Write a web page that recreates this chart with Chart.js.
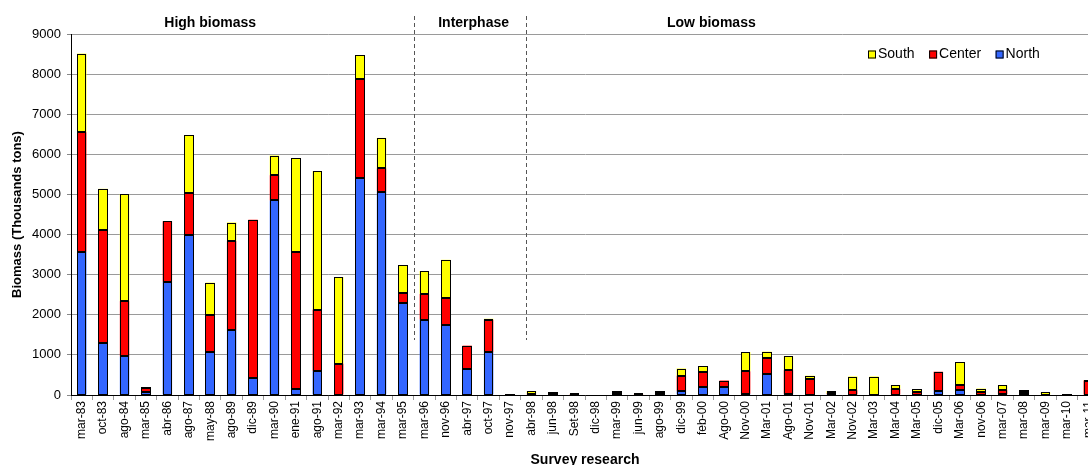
<!DOCTYPE html>
<html><head><meta charset="utf-8">
<script src="https://cdn.jsdelivr.net/npm/chart.js"></script>
<style>
html,body{margin:0;padding:0;overflow:hidden;background:#fff;width:1088px;height:465px}
canvas{display:block}
</style></head>
<body>
<canvas id="c" width="1110" height="470" style="width:1110px;height:470px"></canvas>
<script>
const categories = ['mar-83','oct-83','ago-84','mar-85','abr-86','ago-87','may-88','ago-89','dic-89','mar-90','ene-91','ago-91','mar-92','mar-93','mar-94','mar-95','mar-96','nov-96','abr-97','oct-97','nov-97','abr-98','jun-98','Set-98','dic-98','mar-99','jun-99','ago-99','dic-99','feb-00','Ago-00','Nov-00','Mar-01','Ago-01','Nov-01','Mar-02','Nov-02','Mar-03','Mar-04','Mar-05','dic-05','Mar-06','nov-06','mar-07','mar-08','mar-09','mar-10','mar-11'];
const north  = [3570,1290,960,75,2820,4000,1070,1620,420,4850,140,600,0,5420,5070,2290,1880,1750,650,1070,10,10,40,10,0,30,10,20,100,200,200,30,530,30,10,20,10,0,10,10,110,120,10,20,50,0,0,10];
const center = [2980,2830,1380,90,1510,1030,930,2220,3950,630,3420,1530,780,2450,580,260,640,680,580,800,10,20,10,10,0,40,10,50,380,370,160,560,380,590,380,20,110,10,140,70,470,140,60,100,30,10,10,350];
const south  = [1960,1020,2670,15,0,1440,800,460,0,490,2340,3450,2160,600,760,690,570,940,0,30,0,70,10,5,0,20,5,20,180,150,0,480,170,340,90,60,340,450,100,70,0,560,90,120,40,60,0,10];
const yTicks = [0,1000,2000,3000,4000,5000,6000,7000,8000,9000];
const phaseLabels = ['High biomass','Interphase','Low biomass'];
const phaseLabelAt = [6, 18.3, 29.4];
const phaseBreaks = [15.5, 20.75];

const FAM = '"Liberation Sans", Arial, Helvetica, sans-serif';

const outline = {
  id: 'outline',
  afterDatasetsDraw(chart) {
    const ctx = chart.ctx;
    ctx.save();
    ctx.strokeStyle = '#000'; ctx.lineWidth = 1;
    chart.data.datasets.forEach((ds, i) => {
      chart.getDatasetMeta(i).data.forEach((el, j) => {
        if (!ds.data[j]) return;
        const p = el.getProps(['x', 'y', 'base', 'width'], true);
        const l = Math.round(p.x - p.width / 2) + 0.5;
        const r = Math.round(p.x + p.width / 2) - 0.5;
        const t = Math.round(Math.min(p.y, p.base)) + 0.5;
        const b = Math.round(Math.max(p.y, p.base)) - 0.5;
        ctx.strokeRect(l, Math.min(t, b), r - l, Math.max(b - t, 1));
      });
    });
    ctx.restore();
  }
};

const decor = {
  id: 'decor',
  afterDraw(chart) {
    const ctx = chart.ctx, x = chart.scales.x;
    ctx.save();
    ctx.strokeStyle = '#555'; ctx.lineWidth = 1; ctx.setLineDash([4, 3]);
    phaseBreaks.forEach(v => {
      const px = Math.round(x.getPixelForValue(v)) + 0.5;
      ctx.beginPath(); ctx.moveTo(px, 16); ctx.lineTo(px, 340); ctx.stroke();
    });
    ctx.setLineDash([]);
    ctx.fillStyle = '#000'; ctx.textAlign = 'center'; ctx.textBaseline = 'middle';
    ctx.font = 'bold 14px ' + FAM;
    phaseLabels.forEach((t, i) => ctx.fillText(t, x.getPixelForValue(phaseLabelAt[i]), 23));
    // legend (reverse dataset order)
    ctx.font = '14px ' + FAM; ctx.textAlign = 'left';
    let lx = 868; const ly = 54.5;
    chart.data.datasets.slice().reverse().forEach(ds => {
      ctx.fillStyle = ds.backgroundColor;
      ctx.fillRect(lx, ly - 4, 8, 8);
      ctx.strokeStyle = '#000'; ctx.lineWidth = 1;
      ctx.strokeRect(lx + 0.5, ly - 3.5, 7, 7);
      ctx.fillStyle = '#000';
      ctx.fillText(ds.label, lx + 10, ly);
      lx += 10 + ctx.measureText(ds.label).width + 14.5;
    });
    ctx.restore();
  }
};

const barStyle = { borderWidth: 0, inflateAmount: 0, barPercentage: 0.44, categoryPercentage: 1 };

new Chart(document.getElementById('c'), {
  type: 'bar',
  data: {
    labels: categories,
    datasets: [
      Object.assign({ label: 'North',  data: north,  backgroundColor: '#3366FF' }, barStyle),
      Object.assign({ label: 'Center', data: center, backgroundColor: '#FF0000' }, barStyle),
      Object.assign({ label: 'South',  data: south,  backgroundColor: '#FFFF00' }, barStyle)
    ]
  },
  options: {
    responsive: false, animation: false, devicePixelRatio: 1,
    layout: { padding: { top: 34, right: 11, left: 0, bottom: 0 } },
    plugins: { legend: { display: false }, tooltip: { enabled: false } },
    scales: {
      x: {
        stacked: true,
        afterFit(s) { s.height = 75; },
        ticks: { minRotation: 90, maxRotation: 90, autoSkip: false, padding: 1, color: '#000', font: { size: 12, family: FAM } },
        grid: { display: true, drawOnChartArea: false, tickLength: 5, color: '#9a9a9a', offset: true },
        border: { color: '#000', width: 1 },
        title: { display: true, text: 'Survey research', color: '#000', font: { size: 14, weight: 'bold', family: FAM }, padding: { top: 0, bottom: 1.6 } }
      },
      y: {
        stacked: true, min: 0, max: 9000,
        afterFit(s) { s.width = 71; },
        afterBuildTicks(s) { s.ticks = yTicks.map(v => ({ value: v })); },
        ticks: { padding: 6, color: '#000', font: { size: 13, family: FAM }, callback: v => String(v) },
        grid: { color: '#9a9a9a', tickLength: 4, tickColor: '#888' },
        border: { color: '#000', width: 1 },
        title: { display: true, text: 'Biomass (Thousands tons)', color: '#000', font: { size: 13, weight: 'bold', family: FAM }, padding: { top: 10, bottom: 0 } }
      }
    }
  },
  plugins: [outline, decor]
});
</script>
</body></html>
